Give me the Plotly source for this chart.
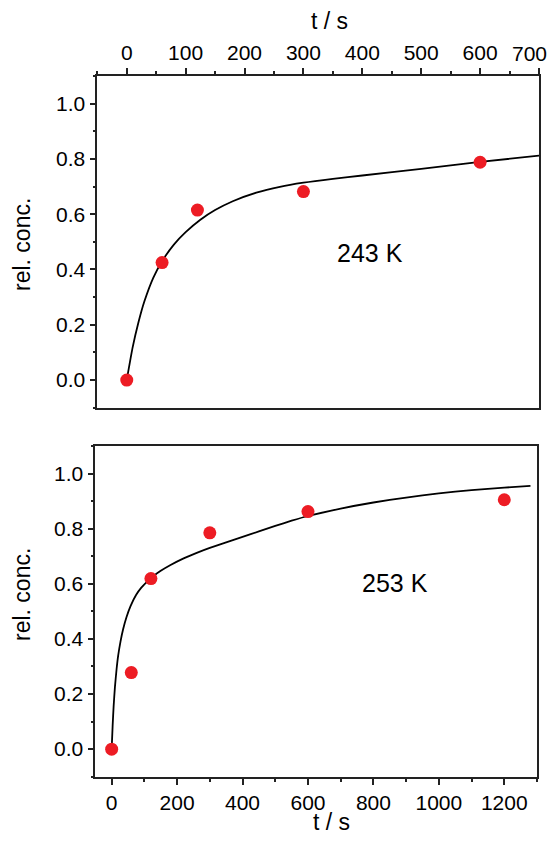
import plotly.graph_objects as go

# ---- data: 243 K panel ----
t_243 = [0, 60, 120, 300, 600]
c_243 = [0.0, 0.425, 0.615, 0.682, 0.788]
fit_t_243 = [0, 10, 20, 30, 45, 60, 80, 100, 125, 150, 180, 220, 260, 300, 350, 400, 500, 600, 700]
fit_c_243 = [0.0, 0.118, 0.21, 0.285, 0.37, 0.43, 0.49, 0.535, 0.58, 0.615, 0.647, 0.678, 0.699,
             0.714, 0.728, 0.74, 0.764, 0.789, 0.812]

# ---- data: 253 K panel ----
t_253 = [0, 60, 120, 300, 600, 1200]
c_253 = [0.0, 0.278, 0.619, 0.785, 0.862, 0.905]
fit_t_253 = [0, 3, 6, 10, 15, 20, 27, 35, 45, 58, 75, 90, 110, 130, 150, 180, 220, 260, 300, 350,
             400, 450, 500, 550, 600, 700, 800, 900, 1000, 1100, 1200, 1280]
fit_c_253 = [0.0, 0.085, 0.155, 0.225, 0.29, 0.34, 0.39, 0.435, 0.478, 0.52, 0.56, 0.585, 0.61,
             0.63, 0.647, 0.668, 0.692, 0.712, 0.73, 0.75, 0.77, 0.79, 0.81, 0.829, 0.846, 0.873,
             0.895, 0.913, 0.928, 0.94, 0.949, 0.955]

top_last_tick = "700"
labels = ["243 K", "253 K"]
y_title = "rel. conc."
x_title = "t / s"

# the page body has an 8px margin on every side: draw the figure 16px smaller
OFF = 8
W, H = 558 - 2 * OFF, 843 - 2 * OFF
FONT = "Liberation Sans, Arial, sans-serif"
RED = "#ED1C24"
AX = "#222222"


def px(xp):
    return (xp - OFF) / W


def py(yp):
    return 1 - (yp - OFF) / H


fig = go.Figure()
fig.add_trace(go.Scatter(x=fit_t_243, y=fit_c_243, mode="lines",
                         line=dict(color="black", width=1.8, shape="spline", smoothing=0.5),
                         xaxis="x", yaxis="y", showlegend=False))
fig.add_trace(go.Scatter(x=t_243, y=c_243, mode="markers", marker=dict(color=RED, size=13),
                         xaxis="x", yaxis="y", showlegend=False))
fig.add_trace(go.Scatter(x=fit_t_253, y=fit_c_253, mode="lines",
                         line=dict(color="black", width=1.8, shape="spline", smoothing=0.5),
                         xaxis="x2", yaxis="y2", showlegend=False))
fig.add_trace(go.Scatter(x=t_253, y=c_253, mode="markers", marker=dict(color=RED, size=13),
                         xaxis="x2", yaxis="y2", showlegend=False))

common = dict(showline=True, linecolor=AX, linewidth=1.6, mirror=True, showgrid=False, zeroline=False,
              ticks="outside", ticklen=6, tickwidth=1.5, tickcolor=AX,
              tickfont=dict(family=FONT, size=21, color="black"))
minor_style = dict(ticks="outside", ticklen=3, tickwidth=1.5, tickcolor=AX)

fig.update_layout(
    width=W, height=H,
    margin=dict(l=0, r=0, t=0, b=0),
    paper_bgcolor="white", plot_bgcolor="white",
    font=dict(family=FONT, color="black"),
    xaxis=dict(domain=[px(97.3), px(539)], anchor="y", side="top", range=[-50, 700],
               tick0=0, dtick=100, minor=dict(dtick=50, **minor_style), **common),
    yaxis=dict(domain=[py(407.7), py(76)], anchor="x", range=[-0.1, 1.1], tick0=0, dtick=0.2,
               tickformat=".1f", minor=dict(dtick=0.1, **minor_style), **common),
    xaxis2=dict(domain=[px(95.3), px(537)], anchor="y2", side="bottom", range=[-50, 1300],
                tick0=0, dtick=200, minor=dict(dtick=100, **minor_style), **common),
    yaxis2=dict(domain=[py(776.7), py(446)], anchor="x2", range=[-0.1, 1.1], tick0=0, dtick=0.2,
                tickformat=".1f", minor=dict(dtick=0.1, **minor_style), **common),
)

ann = [
    dict(x=413, y=0.461, xref="x", yref="y", text=labels[0], showarrow=False,
         font=dict(family=FONT, size=25, color="black")),
    dict(x=867, y=0.602, xref="x2", yref="y2", text=labels[1], showarrow=False,
         font=dict(family=FONT, size=25, color="black")),
    # last top tick label, kept just inside the page edge
    dict(x=px(549), y=py(53), xref="paper", yref="paper", text=top_last_tick, showarrow=False,
         xanchor="right", yanchor="middle", font=dict(family=FONT, size=21, color="black")),
    dict(x=px(330), y=py(21), xref="paper", yref="paper", text=x_title, showarrow=False,
         xanchor="center", yanchor="middle", font=dict(family=FONT, size=23, color="black")),
    dict(x=px(331.7), y=py(822), xref="paper", yref="paper", text=x_title, showarrow=False,
         xanchor="center", yanchor="middle", font=dict(family=FONT, size=23, color="black")),
    dict(x=px(22), y=py(245), xref="paper", yref="paper", text=y_title, showarrow=False,
         textangle=-90, xanchor="center", yanchor="middle", font=dict(family=FONT, size=23, color="black")),
    dict(x=px(22), y=py(595), xref="paper", yref="paper", text=y_title, showarrow=False,
         textangle=-90, xanchor="center", yanchor="middle", font=dict(family=FONT, size=23, color="black")),
]
fig.update_layout(annotations=ann)

fig.write_html("out.html")
